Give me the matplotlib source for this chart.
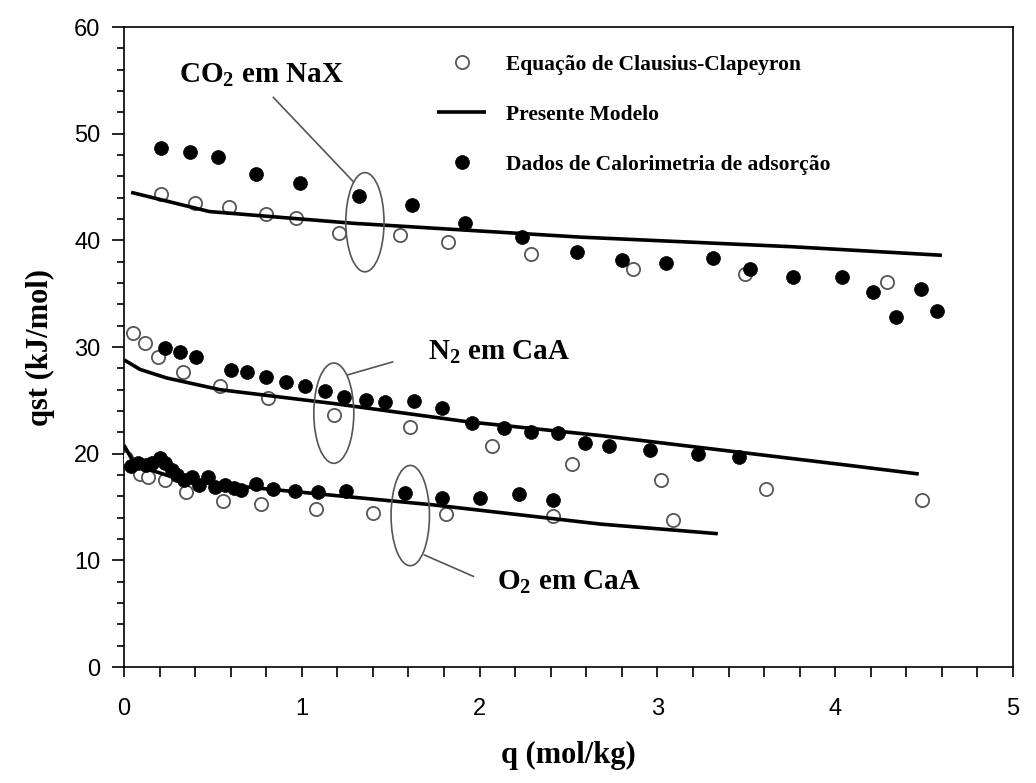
import matplotlib.pyplot as plt
from matplotlib.patches import Ellipse
from matplotlib.lines import Line2D
from matplotlib.ticker import MultipleLocator

plt.rcParams['font.family'] = ['Liberation Serif', 'DejaVu Serif']
plt.rcParams['mathtext.fontset'] = 'custom'
plt.rcParams['mathtext.rm'] = 'Liberation Serif:bold'
plt.rcParams['mathtext.it'] = 'Liberation Serif:bold'
plt.rcParams['mathtext.bf'] = 'Liberation Serif:bold'

# CO2 em NaX
co2_cc_q = [0.21, 0.40, 0.59, 0.80, 0.97, 1.21, 1.55, 1.82, 2.29, 2.86, 3.49, 4.29]
co2_cc_qst = [44.3, 43.5, 43.1, 42.5, 42.1, 40.7, 40.5, 39.8, 38.7, 37.3, 36.8, 36.1]
co2_cal_q = [0.21, 0.37, 0.53, 0.74, 0.99, 1.32, 1.62, 1.92, 2.24, 2.55,
             2.80, 3.05, 3.31, 3.52, 3.76, 4.04, 4.21, 4.34, 4.48, 4.57]
co2_cal_qst = [48.7, 48.3, 47.8, 46.2, 45.4, 44.2, 43.3, 41.6, 40.3, 38.9,
               38.2, 37.9, 38.3, 37.3, 36.6, 36.6, 35.2, 32.8, 35.4, 33.4]
co2_mod_q = [0.04, 0.48, 1.29, 2.57, 3.76, 4.60]
co2_mod_qst = [44.5, 42.7, 41.6, 40.3, 39.4, 38.6]

# N2 em CaA
n2_cc_q = [0.05, 0.12, 0.19, 0.33, 0.54, 0.81, 1.18, 1.61, 2.07, 2.52, 3.02, 3.61, 4.49]
n2_cc_qst = [31.3, 30.4, 29.1, 27.7, 26.3, 25.2, 23.6, 22.5, 20.7, 19.0, 17.5, 16.7, 15.7]
n2_cal_q = [0.23, 0.315, 0.405, 0.60, 0.69, 0.80, 0.91, 1.02, 1.13, 1.24, 1.36, 1.47,
            1.63, 1.79, 1.96, 2.14, 2.29, 2.44, 2.59, 2.73, 2.96, 3.23, 3.46]
n2_cal_qst = [29.9, 29.5, 29.1, 27.8, 27.7, 27.2, 26.7, 26.3, 25.9, 25.3, 25.0, 24.8,
              24.9, 24.3, 22.9, 22.4, 22.0, 21.9, 21.0, 20.7, 20.3, 20.0, 19.7]
n2_mod_q = [0.0, 0.09, 0.24, 0.54, 1.18, 1.93, 2.68, 4.08, 4.47]
n2_mod_qst = [28.8, 27.9, 27.1, 26.0, 24.7, 23.0, 21.7, 18.9, 18.1]

# O2 em CaA
o2_cc_q = [0.01, 0.09, 0.135, 0.23, 0.35, 0.557, 0.77, 1.08, 1.40, 1.81, 2.41, 3.09]
o2_cc_qst = [19.6, 18.1, 17.8, 17.5, 16.4, 15.6, 15.3, 14.8, 14.4, 14.3, 14.2, 13.8]
o2_cal_q = [0.04, 0.08, 0.125, 0.16, 0.20, 0.23, 0.27, 0.30, 0.34, 0.38, 0.42, 0.47,
            0.51, 0.57, 0.62, 0.66, 0.74, 0.84, 0.96, 1.09, 1.25, 1.58, 1.79, 2.00,
            2.22, 2.41]
o2_cal_qst = [18.8, 19.1, 18.9, 19.1, 19.6, 19.1, 18.5, 18.0, 17.5, 17.8, 17.1, 17.8,
              16.9, 17.1, 16.8, 16.6, 17.2, 16.7, 16.5, 16.4, 16.5, 16.3, 15.8, 15.8,
              16.2, 15.7]
o2_mod_q = [0.0, 0.04, 0.09, 0.33, 0.80, 1.74, 2.68, 3.34]
o2_mod_qst = [20.8, 19.6, 18.8, 17.5, 16.7, 15.2, 13.4, 12.5]

fig = plt.figure(figsize=(10.36, 7.83), dpi=100)
ax = fig.add_axes([0.1197, 0.1481, 0.8581, 0.8174])

aberto = dict(marker='o', ls='none', ms=9.5, mfc='white', mec='#555555', mew=1.3)
cheio = dict(marker='o', ls='none', ms=10, mfc='black', mec='black', mew=0.5)
linha = dict(color='black', lw=2.6, solid_capstyle='butt')

for q, qst in [(co2_cc_q, co2_cc_qst), (n2_cc_q, n2_cc_qst), (o2_cc_q, o2_cc_qst)]:
    ax.plot(q, qst, zorder=3, **aberto)
for q, qst in [(co2_mod_q, co2_mod_qst), (n2_mod_q, n2_mod_qst), (o2_mod_q, o2_mod_qst)]:
    ax.plot(q, qst, zorder=4, **linha)
for q, qst in [(co2_cal_q, co2_cal_qst), (n2_cal_q, n2_cal_qst), (o2_cal_q, o2_cal_qst)]:
    ax.plot(q, qst, zorder=5, **cheio)

# elipses e rótulos de cada sistema
elipses = [((1.355, 41.7), 0.215, 9.3), ((1.18, 23.8), 0.225, 9.4), ((1.61, 14.2), 0.216, 9.4)]
for centro, w, h in elipses:
    ax.add_patch(Ellipse(centro, w, h, fill=False, ec='#555555', lw=1.2, zorder=6))

ax.plot([1.29, 0.84], [45.5, 53.4], color='#555555', lw=1.2, zorder=6)
ax.plot([1.26, 1.51], [27.4, 28.6], color='#555555', lw=1.2, zorder=6)
ax.plot([1.69, 1.965], [10.5, 8.5], color='#555555', lw=1.2, zorder=6)

rotulo = dict(fontsize=21, fontweight='bold', ha='center', va='center')
ax.text(0.77, 55.5, 'CO$_2$ em NaX', **rotulo)
ax.text(2.11, 29.5, 'N$_2$ em CaA', **rotulo)
ax.text(2.50, 7.9, 'O$_2$ em CaA', **rotulo)

handles = [Line2D([], [], **aberto), Line2D([], [], **linha), Line2D([], [], **cheio)]
labels = ['Equação de Clausius-Clapeyron', 'Presente Modelo',
          'Dados de Calorimetria de adsorção']
ax.legend(handles, labels, loc='upper left', bbox_to_anchor=(0.352, 0.957),
          frameon=False, borderpad=0, borderaxespad=0, handlelength=2.3,
          handletextpad=0.9, labelspacing=1.4,
          prop={'family': 'Liberation Serif', 'weight': 'bold', 'size': 15.5})

ax.set_xlim(0, 5)
ax.set_ylim(0, 60)
ax.xaxis.set_major_locator(MultipleLocator(1))
ax.xaxis.set_minor_locator(MultipleLocator(0.2))
ax.yaxis.set_major_locator(MultipleLocator(10))
ax.yaxis.set_minor_locator(MultipleLocator(2))
ax.tick_params(which='both', direction='out', top=False, right=False, width=1.2)
ax.tick_params(axis='y', which='major', length=9, pad=8)
ax.tick_params(axis='y', which='minor', length=5)
ax.tick_params(axis='x', which='major', length=7, pad=15)
ax.tick_params(axis='x', which='minor', length=7)
for lab in ax.get_xticklabels() + ax.get_yticklabels():
    lab.set_family('Liberation Sans')
    lab.set_fontsize(17)
for s in ax.spines.values():
    s.set_linewidth(1.2)

ax.set_xlabel('q (mol/kg)', fontsize=22, fontweight='bold', va='center')
ax.set_ylabel('qst (kJ/mol)', fontsize=22, fontweight='bold', va='center')
ax.xaxis.set_label_coords(0.5, -0.1375)
ax.yaxis.set_label_coords(-0.0945, 0.5)

fig.savefig('out.png', dpi=100)
